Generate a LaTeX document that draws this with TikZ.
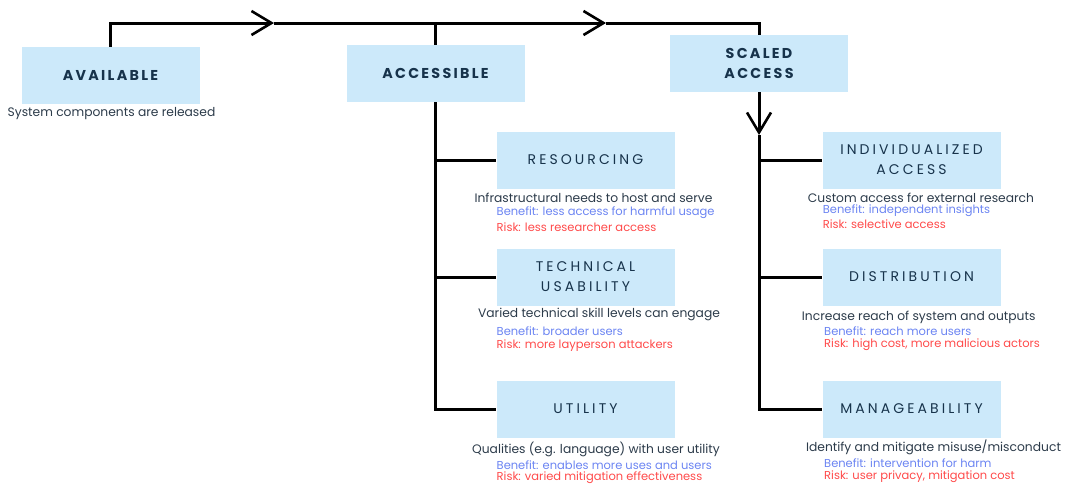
\documentclass[tikz,border=0pt]{standalone}
\usepackage{fontspec}
\setmainfont{Poppins}
\newfontfamily\ttlfont[LetterSpace=16]{Poppins}
\newfontfamily\subfont[LetterSpace=22]{Poppins}
\usetikzlibrary{arrows.meta}
\definecolor{boxblue}{HTML}{CCE9FA}
\definecolor{navy}{HTML}{17334B}
\definecolor{captxt}{HTML}{2C3B4A}
\definecolor{benblue}{HTML}{6B84F2}
\definecolor{riskred}{HTML}{FF4A4A}
\tikzset{
  box/.style={fill=boxblue, minimum width=178pt, minimum height=57pt, inner sep=0pt, align=center},
  maintitle/.style={box, text=navy, font=\ttlfont\bfseries\fontsize{14.3}{19.5}\selectfont},
  subtitle/.style={box, text=navy, font=\subfont\fontsize{14}{20}\selectfont},
  capt/.style={text=captxt, inner sep=0pt, yshift=-1.5pt, font=\fontsize{12.3}{14}\selectfont},
  ben/.style={text=benblue, inner sep=0pt, anchor=west, yshift=-1.5pt, font=\fontsize{11.5}{13}\selectfont},
  risk/.style={text=riskred, inner sep=0pt, anchor=west, yshift=-1pt, font=\fontsize{11.5}{13}\selectfont},
  conn/.style={draw=black, line width=3pt},
  chev/.style={-{Straight Barb[length=20pt,width=24pt,line width=2.6pt]}}
}
\begin{document}
\begin{tikzpicture}[x=1pt,y=-1pt]
\useasboundingbox (0,0) rectangle (1066,485);
% main boxes
\node[maintitle] (avail) at (110.5,75.5) {AVAILABLE};
\node[maintitle] (acc) at (435.5,73.5) {ACCESSIBLE};
\node[maintitle] (scaled) at (759,63.5) {SCALED\\ACCESS};
\node[capt] (availcap) at (111.5,112) {System components are released};
% left column
\node[subtitle] (res) at (585.5,160) {RESOURCING};
\node[subtitle] (tech) at (585.5,277) {TECHNICAL\\USABILITY};
\node[subtitle] (util) at (585.5,409) {UTILITY};
% right column
\node[subtitle] (indiv) at (911.5,160) {INDIVIDUALIZED\\ACCESS};
\node[subtitle] (dist) at (911.5,277) {DISTRIBUTION};
\node[subtitle] (man) at (911.5,409) {MANAGEABILITY};
% captions left
\node[capt] (rescap) at (593.5,196.5) {Infrastructural needs to host and serve};
\node[ben] (resben) at (496.5,210.7) {Benefit: less access for harmful usage};
\node[risk] (resrisk) at (496.5,226) {Risk: less researcher access};
\node[capt] (techcap) at (599,313) {Varied technical skill levels can engage};
\node[ben] (techben) at (496.5,329.3) {Benefit: broader users};
\node[risk] (techrisk) at (496.5,345) {Risk: more layperson attackers};
\node[capt] (utilcap) at (596,447.5) {Qualities (e.g. language) with user utility};
\node[ben] (utilben) at (496.5,463.3) {Benefit: enables more uses and users};
\node[risk] (utilrisk) at (496.5,476.7) {Risk: varied mitigation effectiveness};
% captions right
\node[capt] (indivcap) at (921,196.5) {Custom access for external research};
\node[ben] (indivben) at (822.7,209.3) {Benefit: independent insights};
\node[risk] (indivrisk) at (822.7,223.3) {Risk: selective access};
\node[capt] (distcap) at (918.7,315.5) {Increase reach of system and outputs};
\node[ben] (distben) at (824,330) {Benefit: reach more users};
\node[risk] (distrisk) at (824,344) {Risk: high cost, more malicious actors};
\node[capt] (mancap) at (933.5,445.5) {Identify and mitigate misuse/misconduct};
\node[ben] (manben) at (824,461.7) {Benefit: intervention for harm};
\node[risk] (manrisk) at (824,475.7) {Risk: user privacy, mitigation cost};
% connectors
\coordinate (a1) at (274,23);
\coordinate (a2) at (606,23);
\coordinate (d1) at (759,135);
\draw[conn,chev] (avail.north) |- (a1);
\draw[conn,chev] (a1) -- (a2);
\draw[conn] (a2) -| (scaled.north);
\draw[conn] (acc.north) -- (acc.north |- a1);
\draw[conn] (acc.south) -- (acc.south |- util.west) -- (util.west);
\draw[conn] (acc.south |- res.west) -- (res.west);
\draw[conn] (acc.south |- tech.west) -- (tech.west);
\draw[conn,chev] (scaled.south) -- (d1);
\draw[conn] (d1) -- (d1 |- man.west) -- (man.west);
\draw[conn] (d1 |- indiv.west) -- (indiv.west);
\draw[conn] (d1 |- dist.west) -- (dist.west);
\end{tikzpicture}
\end{document}
